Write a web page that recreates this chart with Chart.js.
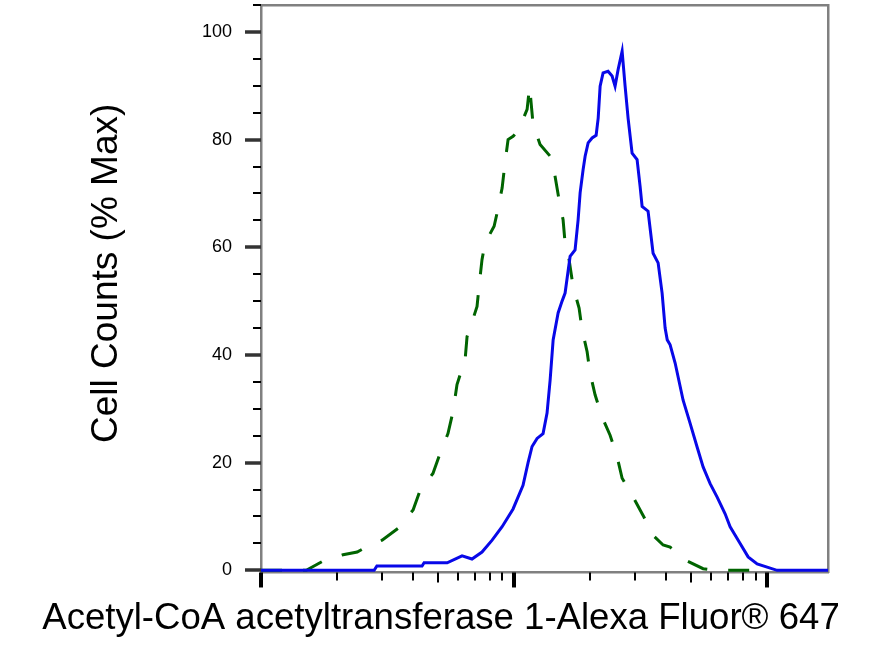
<!DOCTYPE html>
<html>
<head>
<meta charset="utf-8">
<script src="https://cdn.jsdelivr.net/npm/chart.js@4/dist/chart.umd.min.js"></script>
<style>
  html, body { margin: 0; padding: 0; background: #fff; }
  canvas { display: block; }
</style>
</head>
<body>
<canvas id="histo" width="882" height="650"></canvas>
<script>
// fluorescence intensity (log axis) and % max for each histogram
const BLUE_X = [100, 280, 287, 433, 441, 544, 623, 682, 747, 819, 897, 991, 1085, 1136, 1178, 1233, 1302, 1350, 1388, 1427,
  1493, 1548, 1591, 1665, 1742, 1791, 1824, 1874, 1909, 1962, 2034, 2110, 2150, 2188, 2248, 2352, 2440, 2507, 2577, 2673,
  2746, 2822, 2927, 3063, 3148, 3206, 3385, 3543, 3709, 3846, 3953, 4030, 4137, 4330, 4656, 4963, 5288, 5585, 5953, 6346,
  6823, 7142, 7822, 8413, 9131, 10000, 10950, 17400];
const BLUE_Y = [0, 0, 0.8, 0.8, 1.4, 1.4, 2.7, 2.1, 3.4, 5.6, 8.1, 11.4, 15.8, 20, 23, 24.5, 25.4, 29.2, 35.3, 42.8,
  47.8, 50, 51.5, 58.3, 59.5, 65.1, 70.1, 74.4, 76.9, 79.4, 80.3, 80.8, 84, 89.9, 92.4, 92.7, 91.8, 89.9, 93, 96.4,
  90, 84, 77.5, 76.3, 71.3, 67.6, 66.7, 58.9, 57.1, 51.5, 45, 42.8, 41.9, 38.5, 31.6, 27.3, 22.9, 19.2, 16.1, 13.6,
  10.5, 8.1, 5, 2.5, 1.2, 0.6, 0, 0];

const GREEN_X = [100, 151, 174, 211, 240, 251, 301, 348, 399, 425, 478, 510, 548, 574, 595, 612, 635, 652, 670, 714,
  727, 747, 768, 834, 857, 897, 921, 947, 991, 1037, 1126, 1141, 1152, 1189, 1267, 1413, 1452, 1506, 1562, 1591,
  1650, 1711, 1807, 1857, 1944, 1997, 2090, 2227, 2396, 2554, 2673, 2954, 3235, 3543, 3881, 4137, 4743, 5585, 6230, 9380];
const GREEN_Y = [0, 0, 1.6, 2.9, 3.4, 3.9, 5.6, 7.8, 11.2, 14.8, 18, 21.7, 25.4, 29.5, 34.5, 36.3, 37, 43.4, 45, 49,
  52.7, 57.7, 60.8, 63.9, 66.4, 71, 75.7, 80, 80.6, 81.6, 85.6, 88.1, 89.9, 82.8, 79.1, 76.5, 73.2, 68.8, 65.1, 60.8,
  57.7, 52.7, 48.7, 44.7, 40.6, 36.6, 32.6, 28.5, 25.1, 21.1, 17.1, 13.6, 10.2, 6.5, 4.7, 4.3, 1.9, 0.3, 0, 0];

const X_MIN = 100;
const X_MAX = 17400;
const X_DECADES = [100, 1000, 10000];
const Y_TICKS = [0, 20, 40, 60, 80, 100];
const Y_MINOR_STEP = 5;

const FONT = "'Liberation Sans', Arial, sans-serif";
const FRAME = "#808080";

const toPoints = (xs, ys) => xs.map((x, i) => ({ x, y: ys[i] }));

// FlowJo style tick marks: long decades, short minors, mid-length at 5
const tickMarks = {
  id: "tickMarks",
  afterDraw(chart) {
    const { ctx, chartArea } = chart;
    const sx = chart.scales.x;
    const sy = chart.scales.y;
    ctx.save();
    ctx.strokeStyle = "#000";

    X_DECADES.forEach(d => {
      for (let m = 1; m <= 9; m++) {
        const v = d * m;
        if (v < X_MIN || v > X_MAX) continue;
        const px = Math.round(sx.getPixelForValue(v));
        const len = m === 1 ? 15 : m === 5 ? 10 : 8;
        ctx.lineWidth = m === 1 ? 4 : 2;
        ctx.beginPath();
        ctx.moveTo(px, chartArea.bottom);
        ctx.lineTo(px, chartArea.bottom + len);
        ctx.stroke();
      }
    });

    for (let v = 0; v <= sy.max; v += Y_MINOR_STEP) {
      const py = Math.round(sy.getPixelForValue(v));
      const major = Y_TICKS.includes(v);
      ctx.strokeStyle = major ? "#333" : "#000";
      ctx.lineWidth = major ? 3.5 : 2;
      ctx.beginPath();
      ctx.moveTo(chartArea.left - (major ? 16 : 8), py);
      ctx.lineTo(chartArea.left, py);
      ctx.stroke();
    }
    ctx.restore();
  }
};

new Chart(document.getElementById("histo"), {
  type: "scatter",
  data: {
    datasets: [
      {
        label: "Acetyl-CoA acetyltransferase 1",
        data: toPoints(BLUE_X, BLUE_Y),
        showLine: true,
        borderColor: "#0808e8",
        borderWidth: 3,
        pointRadius: 0,
        tension: 0
      },
      {
        label: "Control",
        data: toPoints(GREEN_X, GREEN_Y),
        showLine: true,
        borderColor: "#006400",
        borderWidth: 3,
        borderDash: [21, 21],
        pointRadius: 0,
        tension: 0
      }
    ]
  },
  options: {
    responsive: false,
    animation: false,
    layout: { padding: 0 },
    plugins: {
      legend: { display: false },
      tooltip: { enabled: false },
      title: {
        display: true,
        position: "bottom",
        text: "Acetyl-CoA acetyltransferase 1-Alexa Fluor® 647",
        color: "#000",
        font: { family: FONT, size: 36.6, weight: "normal" },
        padding: { top: 0, bottom: 8.8 }
      }
    },
    scales: {
      x: {
        type: "logarithmic",
        position: "bottom",
        min: X_MIN,
        max: X_MAX,
        grid: { display: false },
        ticks: { display: false },
        border: { color: FRAME, width: 2.5 },
        afterFit: s => { s.height = 24.8; }
      },
      x2: {
        axis: "x",
        position: "top",
        display: true,
        grid: { display: false },
        ticks: { display: false },
        border: { color: FRAME, width: 2.5 },
        afterFit: s => { s.height = 5; }
      },
      y: {
        min: -0.4,
        max: 105,
        position: "left",
        grid: { display: false },
        border: { color: FRAME, width: 2.5 },
        afterBuildTicks: s => { s.ticks = Y_TICKS.map(value => ({ value })); },
        ticks: {
          color: "#000",
          padding: 21,
          font: { family: FONT, size: 18 }
        },
        title: {
          display: true,
          text: "   Cell Counts (% Max)",
          color: "#000",
          font: { family: FONT, size: 37, weight: "normal" },
          padding: { top: 85, bottom: 0 }
        },
        afterFit: s => {
          s.width = 261;
          // labels sit well inside the range, so no extra room above/below
          s.paddingTop = 0;
          s.paddingBottom = 0;
        }
      },
      y2: {
        axis: "y",
        position: "right",
        display: true,
        grid: { display: false },
        ticks: { display: false },
        border: { color: FRAME, width: 2.5 },
        afterFit: s => { s.width = 54; }
      }
    }
  },
  plugins: [tickMarks]
});
</script>
</body>
</html>
